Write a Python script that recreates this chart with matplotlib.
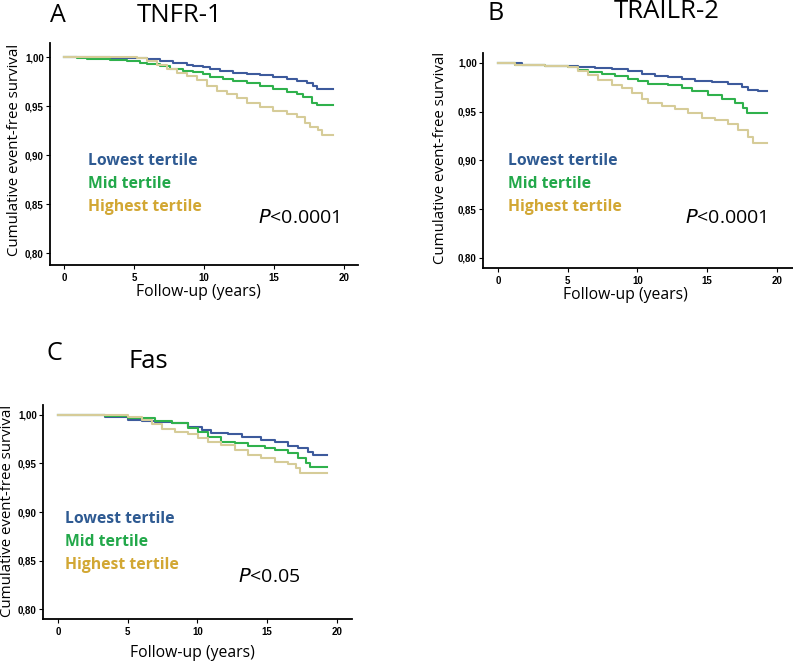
"""
Kaplan-Meier style curves for tertiles of TNFR-1, TRAILR-2 and Fas.
"""
import matplotlib
matplotlib.use("Agg")
import matplotlib.pyplot as plt
from matplotlib.ticker import FuncFormatter

# follow-up times (years) and survival
tnfr_low_t = [0, 1.62, 3.29, 5.19, 5.90, 6.86, 7.81, 8.76, 9.24, 9.95, 10.43,
              11.14, 12.09, 13.05, 14.0, 14.95, 15.9, 16.62, 17.33, 17.81,
              18.05, 19.24]
tnfr_low_s = [1.0, 0.9997, 0.9994, 0.9986, 0.9976, 0.9963, 0.9942, 0.9918,
              0.9908, 0.9895, 0.9874, 0.9861, 0.9840, 0.9827, 0.9813, 0.9799,
              0.9779, 0.9759, 0.9731, 0.9704, 0.9670, 0.9670]
tnfr_mid_t = [0, 0.9, 1.62, 3.29, 4.48, 5.43, 5.9, 6.86, 7.57, 8.52, 9.24,
              9.95, 10.43, 11.38, 12.09, 13.05, 14.0, 14.95, 15.9, 16.62,
              17.10, 17.69, 18.05, 19.24]
tnfr_mid_s = [1.0, 0.9995, 0.9976, 0.9969, 0.9959, 0.9942, 0.9929, 0.9908,
              0.9874, 0.9861, 0.9847, 0.9827, 0.9793, 0.9772, 0.9752, 0.9731,
              0.9704, 0.9670, 0.9646, 0.9622, 0.9588, 0.9527, 0.9515, 0.9515]
tnfr_high_t = [0, 5.19, 5.9, 6.62, 7.33, 8.05, 8.76, 9.48, 10.19, 10.90, 11.62,
               12.33, 13.05, 14.0, 14.95, 15.9, 16.62, 17.21, 17.57, 18.17,
               18.40, 19.24]
tnfr_high_s = [1.0, 0.9986, 0.9963, 0.9918, 0.9874, 0.9833, 0.9806, 0.9765,
               0.9704, 0.9656, 0.9622, 0.9578, 0.9534, 0.9493, 0.9452, 0.9418,
               0.9384, 0.9323, 0.9282, 0.9255, 0.9204, 0.9204]

trail_low_t = [0, 1.7, 3.37, 4.56, 5.76, 6.95, 8.15, 9.34, 10.3, 11.25, 12.21,
               13.17, 14.12, 15.32, 16.51, 17.47, 17.95, 18.66, 19.3]
trail_low_s = [1.0, 0.998, 0.9969, 0.9962, 0.9956, 0.9945, 0.9935, 0.9911,
               0.9887, 0.9867, 0.9850, 0.9836, 0.9815, 0.9798, 0.9781, 0.9747,
               0.9723, 0.9713, 0.9713]
trail_mid_t = [0, 1.22, 3.37, 5.04, 5.76, 6.48, 7.43, 8.39, 9.34, 10.06, 10.78,
               12.21, 13.17, 13.88, 15.08, 16.03, 16.99, 17.59, 17.83, 19.3]
trail_mid_s = [1.0, 0.998, 0.9969, 0.9952, 0.9928, 0.9904, 0.9887, 0.9867,
               0.9836, 0.9809, 0.9785, 0.9768, 0.9740, 0.9706, 0.9665, 0.9631,
               0.9586, 0.9535, 0.9482, 0.9482]
trail_high_t = [0, 1.22, 3.37, 5.04, 5.76, 6.48, 7.19, 8.15, 8.87, 9.58, 10.3,
                10.78, 11.73, 12.69, 13.64, 14.6, 15.56, 16.51, 17.23, 17.95,
                18.3, 19.3]
trail_high_s = [1.0, 0.998, 0.9969, 0.9952, 0.9918, 0.9870, 0.9826, 0.9774,
                0.9740, 0.9689, 0.9631, 0.9586, 0.9562, 0.9528, 0.9484, 0.9439,
                0.9412, 0.9371, 0.9313, 0.9244, 0.9175, 0.9175]

fas_low_t = [0, 3.37, 5.04, 6.0, 6.95, 8.15, 9.34, 10.3, 11.01, 12.21, 13.17,
             14.6, 15.56, 16.51, 17.23, 17.95, 18.3, 19.3]
fas_low_s = [1.0, 0.9983, 0.9948, 0.9942, 0.9931, 0.9914, 0.9880, 0.9845,
             0.9811, 0.9801, 0.9777, 0.9742, 0.9718, 0.9684, 0.9656, 0.9622,
             0.9592, 0.9592]
fas_mid_t = [0, 3.37, 5.04, 6.95, 8.15, 9.34, 10.06, 10.78, 11.73, 12.69,
             13.64, 14.84, 15.56, 16.51, 17.23, 17.83, 18.06, 19.3]
fas_mid_s = [1.0, 0.999, 0.9966, 0.9938, 0.9914, 0.9869, 0.9828, 0.9777,
             0.9718, 0.9708, 0.9684, 0.9663, 0.9639, 0.9605, 0.9560, 0.9502,
             0.9465, 0.9465]
fas_high_t = [0, 3.37, 5.04, 6.0, 6.71, 7.43, 8.39, 9.34, 10.06, 10.78, 11.73,
              12.69, 13.64, 14.6, 15.56, 16.51, 17.1, 17.34, 19.3]
fas_high_s = [1.0, 0.9995, 0.9983, 0.9948, 0.9904, 0.9856, 0.9821, 0.9801,
              0.9759, 0.9725, 0.9691, 0.9639, 0.9588, 0.9553, 0.9519, 0.9491,
              0.9450, 0.9402, 0.9402]

panel_letters = ["A", "B", "C"]
panel_titles = ["TNFR-1", "TRAILR-2", "Fas"]
p_values = ["<0.0001", "<0.0001", "<0.05"]
tertile_labels = ["Lowest tertile", "Mid tertile", "Highest tertile"]
x_ticks = [0, 5, 10, 15, 20]
y_ticks = [0.80, 0.85, 0.90, 0.95, 1.00]

line_colors = ["#3d5a9c", "#2fb14c", "#d6cc98"]
text_colors = ["#2e5a92", "#22a84a", "#d2a733"]

W, H = 793, 663


def fig_rect(left, top, right, bottom):
    """Convert a pixel box to a figure-fraction rect."""
    return [left / W, 1 - bottom / H, (right - left) / W, (bottom - top) / H]


def px(x, y):
    return x / W, 1 - y / H


panels = [
    {
        "rect": fig_rect(50, 43, 358, 265),
        "xlim": (-1.0, 21.0), "ylim": (0.7878, 1.0143),
        "curves": [(tnfr_low_t, tnfr_low_s), (tnfr_mid_t, tnfr_mid_s),
                   (tnfr_high_t, tnfr_high_s)],
        "letter_xy": (50, 15), "title_xy": (180, 15),
        "ylabel_xy": (15, 150), "xlabel_xy": (198, 292),
        "legend_xy": (88, 161), "p_xy": (258, 218),
    },
    {
        "rect": fig_rect(483, 53, 793, 268),
        "xlim": (-1.07, 21.15), "ylim": (0.7897, 1.010),
        "curves": [(trail_low_t, trail_low_s), (trail_mid_t, trail_mid_s),
                   (trail_high_t, trail_high_s)],
        "letter_xy": (487, 13), "title_xy": (667, 11),
        "ylabel_xy": (441, 158), "xlabel_xy": (625, 295),
        "legend_xy": (508, 161), "p_xy": (685, 218),
    },
    {
        "rect": fig_rect(43, 405, 352, 619),
        "xlim": (-1.08, 21.1), "ylim": (0.7897, 1.0103),
        "curves": [(fas_low_t, fas_low_s), (fas_mid_t, fas_mid_s),
                   (fas_high_t, fas_high_s)],
        "letter_xy": (47, 353), "title_xy": (148, 362),
        "ylabel_xy": (8, 511), "xlabel_xy": (192, 653),
        "legend_xy": (65, 519), "p_xy": (238, 577),
    },
]

plt.rcParams["font.family"] = ["Open Sans", "DejaVu Sans"]

fig = plt.figure(figsize=(W / 100, H / 100), dpi=100)

for i, panel in enumerate(panels):
    ax = fig.add_axes(panel["rect"])
    for (t, s), color in zip(panel["curves"], line_colors):
        ax.plot(t, s, drawstyle="steps-post", color=color, lw=1.5)

    ax.set_xlim(*panel["xlim"])
    ax.set_ylim(*panel["ylim"])
    ax.set_xticks(x_ticks)
    ax.set_yticks(y_ticks)
    ax.yaxis.set_major_formatter(
        FuncFormatter(lambda v, pos: f"{v:.2f}".replace(".", ",")))
    ax.tick_params(direction="out", length=3, width=0.8, labelsize=7)
    ax.tick_params(axis="x", pad=2.5)
    ax.tick_params(axis="y", pad=1.5)
    for lab in ax.get_xticklabels() + ax.get_yticklabels():
        lab.set_fontweight("bold")
        lab.set_family(["Liberation Sans", "DejaVu Sans"])
    for side in ("top", "right"):
        ax.spines[side].set_visible(False)
    for side in ("left", "bottom"):
        ax.spines[side].set_linewidth(1.3)

    # panel letter and title
    fig.text(*px(*panel["letter_xy"]), panel_letters[i], fontsize=18,
             ha="left", va="center")
    fig.text(*px(*panel["title_xy"]), panel_titles[i], fontsize=18.5,
             ha="center", va="center")

    # axis labels
    fig.text(*px(*panel["ylabel_xy"]), "Cumulative event-free survival",
             rotation=90, fontsize=10.8, ha="center", va="center")
    fig.text(*px(*panel["xlabel_xy"]), "Follow-up (years)", fontsize=11.3,
             ha="center", va="center")

    # tertile labels
    lx, ly = panel["legend_xy"]
    for j, (label, color) in enumerate(zip(tertile_labels, text_colors)):
        fig.text(*px(lx, ly + j * 23), label, color=color, fontsize=11.3,
                 fontweight="bold", ha="left", va="center")

    fig.text(*px(*panel["p_xy"]), r"$\it{P}$" + p_values[i], fontsize=14,
             ha="left", va="center")

fig.savefig("out.png", dpi=100)
